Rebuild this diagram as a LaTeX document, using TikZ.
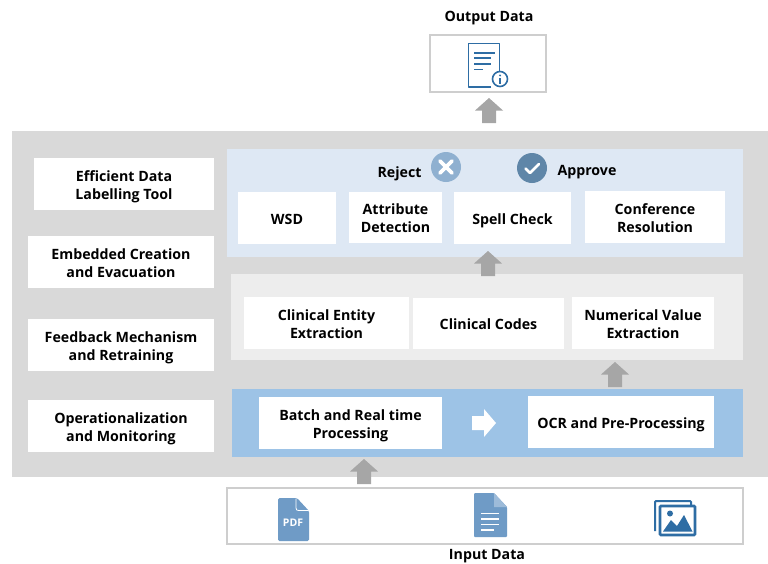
\documentclass[tikz,border=0pt]{standalone}
\usepackage{fontspec}
\setmainfont{Open Sans}
\definecolor{pagegray}{HTML}{D9D9D9}
\definecolor{layerA}{HTML}{DEE8F4}
\definecolor{layerB}{HTML}{EDEDED}
\definecolor{layerC}{HTML}{9DC3E6}
\definecolor{arrowgray}{HTML}{A6A6A6}
\definecolor{framegray}{HTML}{CECECE}
\definecolor{icondark}{HTML}{2E6DA4}
\definecolor{iconmid}{HTML}{6F9BC6}
\definecolor{iconlight}{HTML}{9DBBD9}
\definecolor{rejectc}{HTML}{8FB0D0}
\definecolor{approvec}{HTML}{5F86A8}
\tikzset{
  x=1pt,y=-1pt,
  area/.style={inner sep=0pt,outer sep=0pt},
  whitebox/.style={fill=white,draw=none,inner sep=0pt,outer sep=0pt,align=center,
    font=\fontsize{14.2}{18}\selectfont\bfseries,text=black},
  caption/.style={inner sep=0pt,font=\fontsize{14.2}{18}\selectfont\bfseries,text=black},
  frame/.style={draw=framegray,line width=1.3pt,fill=white,inner sep=0pt,outer sep=0pt},
  pics/upblock/.style={code={
    \fill[arrowgray] (-14,12.5) -- (0,0) -- (14,12.5) -- (7,12.5) -- (7,25) -- (-7,25) -- (-7,12.5) -- cycle;}},
}
\newcommand{\areabox}[7]{% name,x1,y1,x2,y2,style,text
  \node[#6,minimum width=#4-#2,minimum height=#5-#3] (#1) at ({(#2+#4)/2},{(#3+#5)/2}) {#7};}
\newcommand{\lowered}[1]{\smash{\raisebox{-6pt}{\begin{tabular}{@{}c@{}}#1\end{tabular}}}}
\begin{document}
\begin{tikzpicture}
\useasboundingbox (0,0) rectangle (768,563);
% backdrop and layers
\areabox{backdrop}{12}{131}{768}{477}{area,fill=pagegray}{}
\areabox{layerone}{227}{149}{743}{257}{area,fill=layerA}{}
\areabox{layertwo}{231}{274}{743}{360}{area,fill=layerB}{}
\areabox{layerthree}{232}{389}{743}{457}{area,fill=layerC}{}
% left column
\areabox{labelling}{34}{158}{214}{210}{whitebox}{\lowered{Efficient Data\\Labelling Tool}}
\areabox{embedded}{28}{236}{214}{288}{whitebox}{\lowered{Embedded Creation\\and Evacuation}}
\areabox{feedback}{28}{319}{214}{371}{whitebox}{\lowered{Feedback Mechanism\\and Retraining}}
\areabox{operational}{28}{400}{214}{452}{whitebox}{\lowered{Operationalization\\and Monitoring}}
% top layer
\areabox{wsd}{238}{192}{336}{244}{whitebox}{\lowered{WSD}}
\areabox{attribute}{349}{192}{442}{243}{whitebox}{\lowered{Attribute\\Detection}}
\areabox{spell}{454}{192}{571}{244}{whitebox}{\lowered{Spell Check}}
\areabox{conference}{585}{191}{725}{243}{whitebox}{\lowered{Conference\\Resolution}}
\node[caption] (reject) at (399.5,173.5) {Reject};
\node[caption] (approve) at (587,172.5) {Approve};
\node[circle,fill=rejectc,minimum size=30pt,inner sep=0pt] (rejecticon) at (446,167) {};
\draw[white,line width=3.8pt,line cap=round] (440,161) -- (452,173) (452,161) -- (440,173);
\node[circle,fill=approvec,minimum size=30pt,inner sep=0pt] (approveicon) at (532,168) {};
\draw[white,line width=2.8pt,line cap=round,line join=round] (525.5,168.5) -- (530,173) -- (539,164);
% middle layer
\areabox{entity}{244}{297}{409}{349}{whitebox}{\lowered{Clinical Entity\\Extraction}}
\areabox{codes}{413}{298}{564}{349}{whitebox}{\lowered{Clinical Codes}}
\areabox{numeric}{572}{297}{714}{349}{whitebox}{\lowered{Numerical Value\\Extraction}}
% lower layer
\areabox{batch}{259}{397}{442}{449}{whitebox}{\lowered{Batch and Real time\\Processing}}
\areabox{ocr}{528}{396}{714}{448}{whitebox}{\lowered{OCR and Pre-Processing}}
\fill[white] (472,416) -- (484,416) -- (484,409) -- (496,423) -- (484,437) -- (484,430) -- (472,430) -- cycle;
% block arrows
\pic at (489,98) {upblock};
\pic at (488,251) {upblock};
\pic at (615,362) {upblock};
\pic at (364,459) {upblock};
% output
\node[caption] (outtitle) at (489,18.5) {Output Data};
\areabox{outbox}{430}{35}{546}{92}{frame}{}
\draw[icondark,line width=1.8pt,line join=round] (491,87) -- (468.5,87) -- (468.5,43.5) -- (499.5,43.5) -- (499.5,71);
\draw[icondark,line width=1.8pt] (474,52.7) -- (495,52.7) (474,58.3) -- (491,58.3) (474,64) -- (491,64) (474,69.4) -- (483,69.4);
\draw[icondark,line width=1.6pt,fill=white] (500,79) circle (7.5);
\fill[icondark] (500,75.4) circle (1.1);
\draw[icondark,line width=1.6pt] (500,78) -- (500,83.5);
% input
\areabox{inbox}{227}{488}{743}{544}{frame}{}
\node[caption] (intitle) at (487,556.5) {Input Data};
% pdf icon
\fill[iconmid,rounded corners=1.5pt] (278,498) -- (297,498) -- (309,511) -- (309,541) -- (278,541) -- cycle;
\draw[white,line width=.8pt] (296,498.5) -- (296,508) .. controls (296,510) and (297,510.5) .. (299,510.5) -- (308.5,510.5);
\node[inner sep=0pt,text=white,font=\fontsize{10.5}{12}\selectfont\bfseries] (pdflabel) at (293,523) {PDF};
% document icon
\fill[iconmid,rounded corners=1pt] (474,493) -- (494,493) -- (507,507) -- (507,537) -- (474,537) -- cycle;
\fill[iconlight] (494,493) -- (507,507) -- (494,507) -- cycle;
\draw[white,line width=1.9pt] (481,513.5) -- (499,513.5) (481,519) -- (499,519) (481,524.5) -- (499,524.5) (481,530) -- (494,530);
% image icon
\draw[icondark,line width=2pt,rounded corners=1pt] (655,531) -- (655,501) -- (691,501) -- (691,505);
\draw[icondark,line width=2.6pt,fill=white,rounded corners=1pt] (660,506) rectangle (695,535);
\fill[icondark] (670,513.5) circle (3);
\fill[icondark] (663,531.5) -- (671,520) -- (677,526) -- (684,515) -- (692.5,531.5) -- cycle;
\end{tikzpicture}
\end{document}
